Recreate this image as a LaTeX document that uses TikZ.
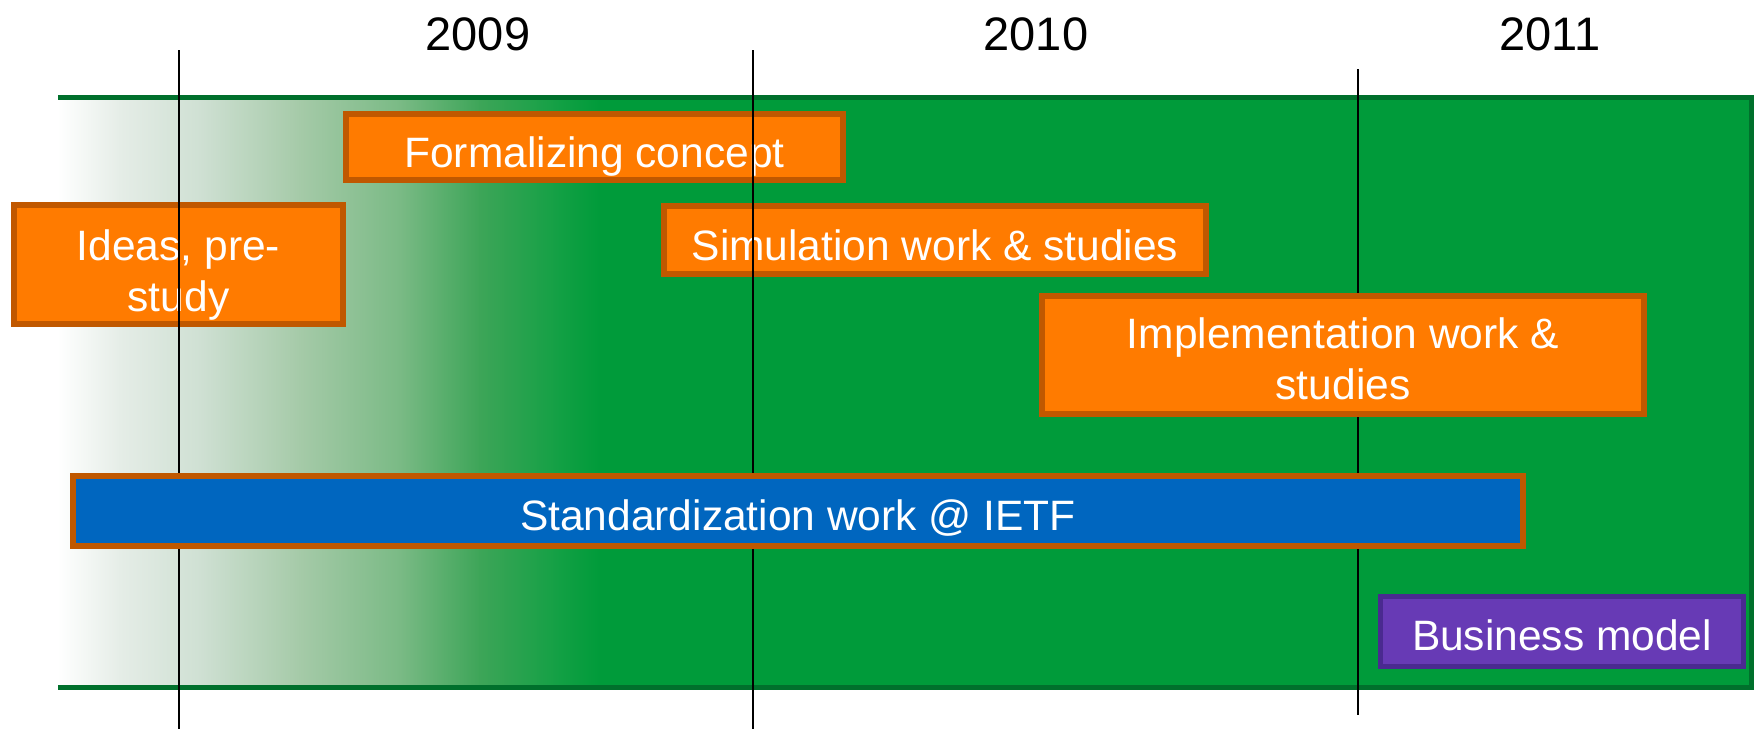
\documentclass[tikz,border=0pt]{standalone}
\usepackage{fontspec}
\setmainfont{Liberation Sans}
\newcommand{\strutof}[1]{\rule{0pt}{#1}}
\begin{document}
\definecolor{bandgreen}{RGB}{0,155,58}
\definecolor{banddark}{RGB}{0,112,44}
\definecolor{taskfill}{RGB}{255,123,0}
\definecolor{taskedge}{RGB}{192,88,0}
\definecolor{stdfill}{RGB}{0,102,191}
\definecolor{bizfill}{RGB}{103,58,181}
\definecolor{bizedge}{RGB}{74,42,144}
\begin{tikzpicture}[x=1pt,y=-1pt,
  % an invisible strut on the first line lowers the label inside its box
  lift/.style={execute at begin node={\strutof{#1}}},
  nolift/.style={execute at begin node={}},
  task/.style={draw=taskedge, fill=taskfill, line width=6pt, inner sep=0pt,
    text=white, align=center, text depth=0pt, lift=38pt,
    font=\fontsize{42.5}{51}\selectfont},
  stdbox/.style={task, fill=stdfill},
  bizbox/.style={task, draw=bizedge, fill=bizfill, line width=5pt},
  yearlabel/.style={inner sep=0pt, font=\fontsize{47}{56}\selectfont},
  yearline/.style={line width=2.2pt, black}]
\useasboundingbox (0,0) rectangle (1754,729);

% timeline band: solid green with a fade-in on the left
\fill[bandgreen] (58,97) rectangle (1752,687);
\foreach \xa/\xb/\ca/\cb in {
    58/120/white/{rgb,255:red,229;green,237;blue,231},
    120/200/{rgb,255:red,229;green,237;blue,231}/{rgb,255:red,207;green,224;blue,211},
    200/300/{rgb,255:red,207;green,224;blue,211}/{rgb,255:red,165;green,202;blue,168},
    300/400/{rgb,255:red,165;green,202;blue,168}/{rgb,255:red,122;green,186;blue,133},
    400/480/{rgb,255:red,122;green,186;blue,133}/{rgb,255:red,61;green,165;blue,88},
    480/560/{rgb,255:red,61;green,165;blue,88}/{rgb,255:red,18;green,160;blue,68},
    560/600/{rgb,255:red,18;green,160;blue,68}/bandgreen}
  \shade[left color=\ca, right color=\cb] (\xa-0.5,97) rectangle (\xb+0.5,687);
\draw[banddark, line width=5pt] (58,97) -- (1751.5,97) -- (1751.5,687) -- (58,687);

% year labels
\node[yearlabel] (y2009) at (478,34) {2009};
\node[yearlabel] (y2010) at (1036,34) {2010};
\node[yearlabel] (y2011) at (1550,34) {2011};

% early activities (drawn beneath the year markers)
\node[task, nolift, minimum width=329pt, minimum height=119pt] (ideas) at (178.5,264.5) {\strutof{42pt}Ideas, pre-\\study};
\node[task, lift=40pt, minimum width=497pt, minimum height=66pt] (formal) at (594.5,147) {Formalizing concept};
\node[task, lift=40pt, minimum width=542pt, minimum height=68pt] (sim) at (935,240) {Simulation work \& studies};

% year markers
\coordinate (m1t) at (179,50);  \coordinate (m1b) at (179,729);
\coordinate (m2t) at (753,50);  \coordinate (m2b) at (753,729);
\coordinate (m3t) at (1358,69); \coordinate (m3b) at (1358,715);
\draw[yearline] (m1t) -- (m1b);
\draw[yearline] (m2t) -- (m2b);
\draw[yearline] (m3t) -- (m3b);

% later activities (drawn above the year markers)
\node[task, nolift, minimum width=602pt, minimum height=118pt] (impl) at (1343,355) {\strutof{38pt}Implementation work \&\\studies};
\node[stdbox, minimum width=1450pt, minimum height=70pt] (std) at (798,511) {Standardization work @ IETF};
\node[bizbox, minimum width=363pt, minimum height=70pt] (biz) at (1562,631.5) {Business model};
\end{tikzpicture}
\end{document}
